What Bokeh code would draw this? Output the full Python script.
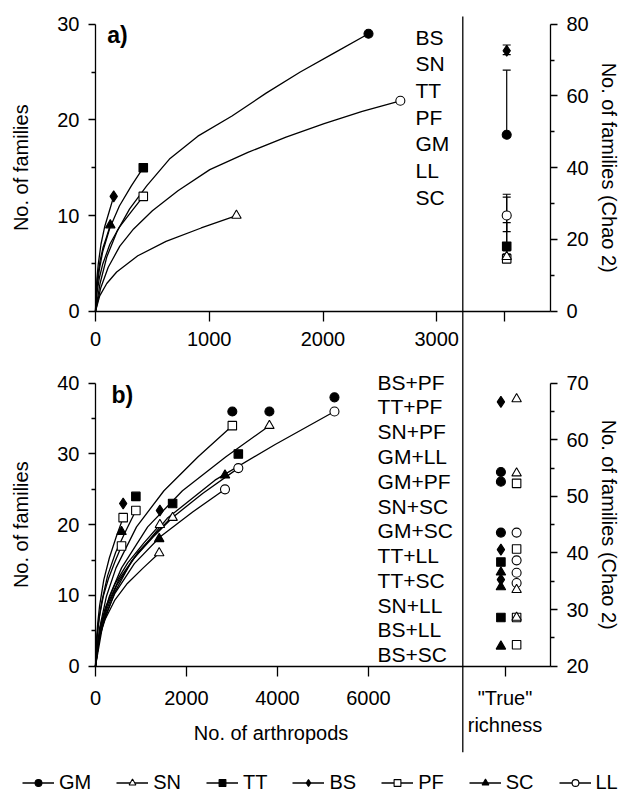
from math import pi
from bokeh.plotting import figure
from bokeh.models import (Range1d, LinearAxis, FixedTicker, Label, Legend, LegendItem,
                          ColumnDataSource, Whisker, TeeHead)
from bokeh.core.properties import value
from bokeh.embed import file_html
from bokeh.resources import INLINE

FONT = "Liberation Sans"

# ---------------- data ----------------
sites = ["GM", "SN", "TT", "BS", "PF", "SC", "LL"]

# panel a: rarefaction curves (no. of arthropods, no. of families)
a_GM_x = [0, 40, 100, 192, 300, 450, 650, 900, 1200, 1500, 1800, 2100, 2400]
a_GM_y = [0, 2.9, 5.7, 8.4, 10.7, 13.1, 15.9, 18.3, 20.4, 22.8, 25.0, 27.0, 29.0]
a_SN_x = [0, 37, 99, 186, 372, 620, 929, 1239]
a_SN_y = [0, 1.6, 2.9, 4.1, 5.8, 7.3, 8.7, 10.0]
a_TT_x = [0, 13, 34, 63, 126, 210, 315, 420]
a_TT_y = [0, 2.4, 4.4, 6.2, 8.7, 11.0, 13.1, 15.0]
a_BS_x = [0, 5, 13, 24, 48, 80, 120, 160]
a_BS_y = [0, 1.9, 3.5, 4.9, 7.0, 8.8, 10.4, 12.0]
a_PF_x = [0, 13, 34, 63, 126, 210, 315, 420]
a_PF_y = [0, 1.9, 3.5, 4.9, 7.0, 8.8, 10.4, 12.0]
a_SC_x = [0, 4, 10, 20, 39, 65, 98, 130]
a_SC_y = [0, 1.4, 2.6, 3.7, 5.2, 6.6, 7.8, 9.0]
a_LL_x = [0, 45, 112, 214, 335, 500, 725, 1005, 1340, 1675, 2010, 2345, 2680]
a_LL_y = [0, 2.4, 4.6, 6.8, 8.6, 10.5, 12.6, 14.8, 16.6, 18.2, 19.6, 20.9, 22.0]

a_labels = ["BS", "SN", "TT", "PF", "GM", "LL", "SC"]

# panel a "true" richness (Chao 2) with confidence limits
a_chao_site = ["PF", "SN", "TT", "LL", "GM", "BS"]
a_chao_val = [14.6, 15.2, 18.1, 26.7, 49.2, 72.6]
a_chao_lo = [13.8, 14.5, 16.8, 22.2, 48.5, 71.5]
a_chao_hi = [31.8, 16.0, 24.7, 32.6, 67.2, 74.2]

# panel b: combined-site rarefaction curves
b_pair_top = ["BS", "SC", "TT", "BS", "SC", "TT", "GM", "GM", "TT", "SC", "GM"]
b_pair_bot = ["PF", "PF", "PF", "SN", "SN", "SN", "PF", "SN", "LL", "LL", "LL"]
b_top_y = [23, 19, 24, 22, 18, 23, 36, 36, 30, 27, 38]
b_curve_x = [
    [0, 18, 49, 91, 182, 304, 456, 608],
    [0, 17, 46, 86, 172, 286, 429, 572],
    [0, 27, 71, 133, 266, 444, 665, 887],
    [0, 42, 113, 212, 425, 708, 1061, 1415],
    [0, 42, 112, 210, 420, 700, 1050, 1400],
    [0, 51, 136, 254, 509, 848, 1271, 1695],
    [0, 90, 241, 451, 902, 1504, 2255, 3007],
    [0, 115, 306, 573, 1147, 1911, 2867, 3822],
    [0, 94, 251, 471, 942, 1570, 2354, 3139],
    [0, 85, 228, 427, 854, 1423, 2135, 2846],
    [0, 158, 420, 788, 1576, 2626, 3939, 5252],
]
b_curve_y = [
    [0, 3.4, 6.1, 8.6, 12.2, 15.3, 18.3, 21],
    [0, 2.7, 4.9, 7.0, 9.9, 12.4, 14.8, 17],
    [0, 3.5, 6.4, 9.0, 12.8, 16.1, 19.1, 22],
    [0, 3.2, 5.8, 8.2, 11.6, 14.6, 17.4, 20],
    [0, 2.6, 4.6, 6.6, 9.3, 11.7, 13.9, 16],
    [0, 3.4, 6.1, 8.6, 12.2, 15.3, 18.3, 21],
    [0, 5.4, 9.9, 13.9, 19.7, 24.8, 29.6, 34],
    [0, 5.4, 9.9, 13.9, 19.7, 24.8, 29.6, 34],
    [0, 4.5, 8.1, 11.5, 16.2, 20.4, 24.4, 28],
    [0, 4.0, 7.3, 10.3, 14.5, 18.3, 21.8, 25],
    [0, 5.8, 10.4, 14.8, 20.9, 26.3, 31.3, 36],
]
b_labels = ["BS+PF", "TT+PF", "SN+PF", "GM+LL", "GM+PF", "SN+SC",
            "GM+SC", "TT+LL", "TT+SC", "SN+LL", "BS+LL", "BS+SC"]

# panel b "true" richness (Chao 2)
b_true_left_site = ["BS", "GM", "GM", "GM", "BS", "TT", "SC", "BS", "SC", "TT", "SC"]
b_true_left_val = [66.7, 54.3, 52.6, 43.6, 40.6, 38.4, 36.6, 35.3, 34.0, 28.6, 23.5]
b_true_right_site = ["SN", "SN", "PF", "LL", "PF", "LL", "LL", "LL", "SN", "PF", "SN", "PF"]
b_true_right_val = [67.2, 54.1, 52.3, 43.6, 40.7, 38.7, 36.5, 34.7, 33.5, 28.6, 28.6, 23.8]

# ticks
a_xticks = [0, 1000, 2000, 3000]
a_yticks = [0, 10, 20, 30]
a_yminor = [5, 15, 25]
a_cticks = [0, 20, 40, 60, 80]
a_cminor = [10, 30, 50, 70]
b_xticks = [0, 2000, 4000, 6000]
b_yticks = [0, 10, 20, 30, 40]
b_yminor = [5, 15, 25, 35]
b_cticks = [20, 30, 40, 50, 60, 70]
b_cminor = [25, 35, 45, 55, 65]

# ---------------- styling ----------------
MARK = {"GM": ("circle", "black"), "SN": ("triangle", "white"), "TT": ("square", "black"),
        "BS": ("diamond", "black"), "PF": ("square", "white"), "SC": ("triangle", "black"),
        "LL": ("circle", "white")}
MSIZE = {"circle": 9, "triangle": 9.5, "square": 8.5, "diamond": 11}

a_curves = {"GM": (a_GM_x, a_GM_y), "SN": (a_SN_x, a_SN_y), "TT": (a_TT_x, a_TT_y),
            "BS": (a_BS_x, a_BS_y), "PF": (a_PF_x, a_PF_y), "SC": (a_SC_x, a_SC_y),
            "LL": (a_LL_x, a_LL_y)}

A_TRUE = 3600      # "True" column, panel a units
B_TRUE = 9000      # "True" column, panel b units
A_DIV = 3229       # divider, panel a units
DIV_TOP, DIV_BOT = 30.8, -46.1

# the frame covers the whole canvas; each panel has its own ranges
p = figure(width=631, height=794,
           x_range=Range1d(-835.2, 4712.1), y_range=Range1d(-50.52, 32.48),
           output_backend="svg", toolbar_location=None,
           x_axis_location=None, y_axis_location=None,
           min_border_left=0, min_border_right=0, min_border_top=0, min_border_bottom=0)
p.extra_x_ranges = {"xb": Range1d(-2087.9, 11780.2)}
p.extra_y_ranges = {"yra": Range1d(-134.71, 86.61), "yb": Range1d(-18.13, 94.09),
                    "yrb": Range1d(-2.67, 137.61)}
p.outline_line_color = None
p.grid.visible = False
p.background_fill_color = "white"
p.border_fill_color = "white"


def scat(site, xs, ys, **kw):
    m, fc = MARK[site]
    return p.scatter(xs, ys, marker=m, size=MSIZE[m], fill_color=fc, line_color="black",
                     line_width=1.1, **kw)


def make_axis(side, ticks, minor, bounds, loc, tick_out, minor_out, standoff, overrides=None, **kw):
    ax = LinearAxis(fixed_location=loc, bounds=bounds,
                    ticker=FixedTicker(ticks=ticks, minor_ticks=minor), **kw)
    ax.axis_line_color = "black"
    ax.axis_line_width = 1.3
    ax.major_tick_line_color = "black"
    ax.major_tick_line_width = 1.3
    ax.minor_tick_line_color = "black"
    ax.minor_tick_line_width = 1.3
    ax.major_tick_in = 0
    ax.major_tick_out = tick_out
    ax.minor_tick_in = 0
    ax.minor_tick_out = minor_out
    ax.major_label_standoff = standoff
    ax.major_label_text_font = FONT
    ax.major_label_text_font_size = "20px"
    ax.major_label_text_color = "black"
    if overrides:
        ax.major_label_overrides = overrides
    p.add_layout(ax, side)
    return ax


def title(text, x, y, angle=0.0, **kw):
    p.add_layout(Label(x=x, y=y, text=text, angle=angle, text_align="center",
                       text_baseline="middle", text_font=FONT, text_font_size="20px",
                       text_color="black", **kw))


# divider
p.segment(x0=[A_DIV], y0=[DIV_BOT], x1=[A_DIV], y1=[DIV_TOP], line_color="black", line_width=1.3)

# axes panel a
make_axis("left", a_yticks, a_yminor, (0, 30), 0, 7, 4, 9)
make_axis("right", a_cticks, a_cminor, (0, 80), 4000, 7, 4, 9, y_range_name="yra")
make_axis("below", a_xticks + [A_TRUE], [], (0, 4000), 0, 10, 0, 11, overrides={A_TRUE: ""})
# axes panel b
make_axis("left", b_yticks, b_yminor, (0, 40), 0, 7, 4, 9, x_range_name="xb", y_range_name="yb")
make_axis("right", b_cticks, b_cminor, (20, 70), 10000, 7, 4, 9, x_range_name="xb",
          y_range_name="yrb")
make_axis("below", b_xticks + [B_TRUE], [], (0, 10000), 0, 10, 0, 11,
          overrides={B_TRUE: '"True"\nrichness'}, x_range_name="xb", y_range_name="yb")

# ---- panel a curves ----
line_r, scat_r = {}, {}
for s in sites:
    xs, ys = a_curves[s]
    line_r[s] = p.line(xs, ys, line_color="black", line_width=1.3)
for s in ["LL", "GM", "SN", "PF", "TT", "BS", "SC"]:
    xs, ys = a_curves[s]
    scat_r[s] = scat(s, [xs[-1]], [ys[-1]])

# panel a true richness
wsrc = ColumnDataSource(dict(x=[A_TRUE + 15] * len(a_chao_lo), lo=a_chao_lo, hi=a_chao_hi))
p.add_layout(Whisker(source=wsrc, base="x", lower="lo", upper="hi", dimension="height",
                     y_range_name="yra", line_color="black", line_width=1.2, level="underlay",
                     upper_head=TeeHead(size=8, line_color="black", line_width=1.2),
                     lower_head=TeeHead(size=8, line_color="black", line_width=1.2)))
for s, v in zip(a_chao_site, a_chao_val):
    scat(s, [A_TRUE + 15], [v], y_range_name="yra")

# panel a labels
p.text(x=[2813] * len(a_labels), y=[28.66 - 2.79 * i for i in range(len(a_labels))],
       text=a_labels, text_font=value(FONT), text_font_size=value("21px"),
       text_baseline="middle", text_align="left", text_color="black")
p.add_layout(Label(x=103, y=28.9, text="a)", text_font=FONT, text_font_size="23px",
                   text_font_style="bold", text_baseline="middle", text_color="black"))

# ---- panel b curves ----
for xs, ys in zip(b_curve_x, b_curve_y):
    p.line(xs, ys, line_color="black", line_width=1.3, x_range_name="xb", y_range_name="yb")
for xs, ys, top_s, bot_s, ty in zip(b_curve_x, b_curve_y, b_pair_top, b_pair_bot, b_top_y):
    scat(top_s, [xs[-1]], [ty], x_range_name="xb", y_range_name="yb")
    scat(bot_s, [xs[-1]], [ys[-1]], x_range_name="xb", y_range_name="yb")

for s, v in zip(b_true_left_site, b_true_left_val):
    scat(s, [B_TRUE - 90], [v], x_range_name="xb", y_range_name="yrb")
for s, v in zip(b_true_right_site, b_true_right_val):
    scat(s, [B_TRUE + 255], [v], x_range_name="xb", y_range_name="yrb")

p.text(x=[6199] * len(b_labels), y=[40.14 - 3.5 * i for i in range(len(b_labels))],
       text=b_labels, text_font=value(FONT), text_font_size=value("21px"),
       text_baseline="middle", text_align="left", text_color="black",
       x_range_name="xb", y_range_name="yb")
p.add_layout(Label(x=352, y=38.4, text="b)", text_font=FONT, text_font_size="23px",
                   text_font_style="bold", text_baseline="middle", text_color="black",
                   x_range_name="xb", y_range_name="yb"))

# ---- axis titles ----
title("No. of families", -659, 15, pi / 2)
title("No. of families", -659, 20, pi / 2, y_range_name="yb")
title("No. of families (Chao 2)", 4510, 40, -pi / 2, y_range_name="yra")
title("No. of families (Chao 2)", 4510, 45, -pi / 2, y_range_name="yrb")
title("No. of arthropods", 3859, -9.5, 0.0, x_range_name="xb", y_range_name="yb")

# ---- legend ----
items = [LegendItem(label=s, renderers=[line_r[s], scat_r[s]]) for s in sites]
legend = Legend(items=items, orientation="horizontal", location=(22, 0),
                glyph_width=32, glyph_height=17, label_standoff=5, spacing=25,
                padding=0, margin=0, border_line_color=None, background_fill_alpha=0,
                label_text_font=FONT, label_text_font_size="20px", label_text_color="black")
p.add_layout(legend)

open("out.html", "w").write(file_html(p, INLINE))
